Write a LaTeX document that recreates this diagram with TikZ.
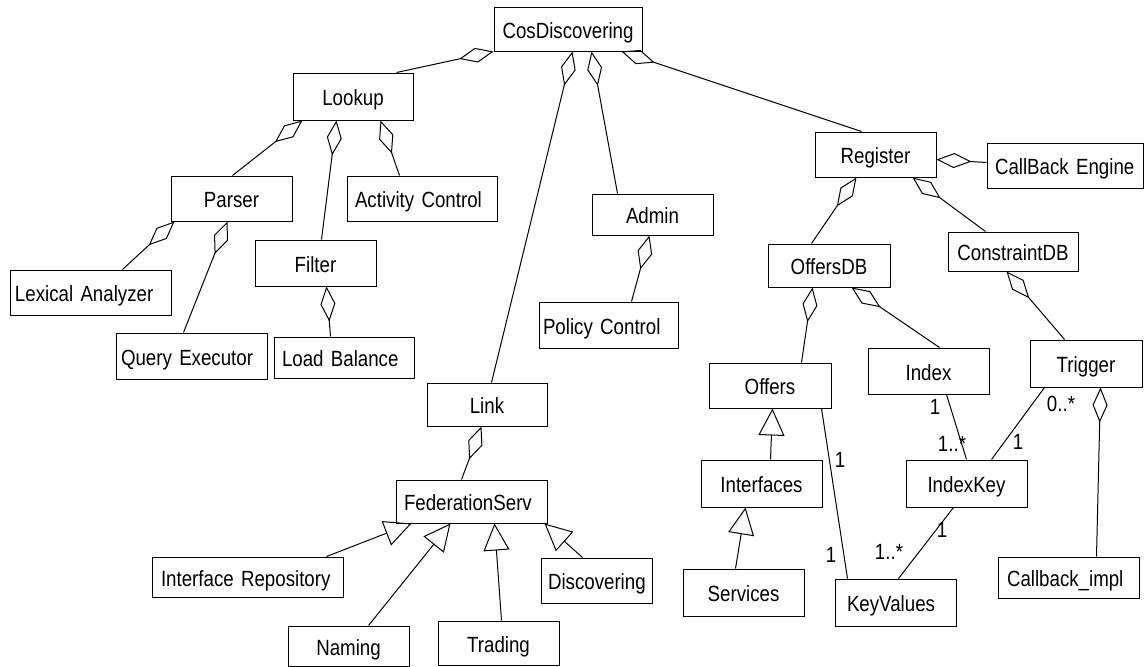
\documentclass[tikz,border=0pt]{standalone}
\usepackage{fontspec}
\setmainfont[FakeStretch=0.85,WordSpace=0.7]{Liberation Sans}
\usetikzlibrary{arrows.meta,calc}
\begin{document}
\begin{tikzpicture}[x=1pt,y=-1pt,line width=1pt,
  font=\fontsize{22}{26}\selectfont,
  box/.style={draw,rectangle,inner ysep=0pt,inner xsep=2pt,text height=22pt,text depth=4pt},
  lt/.style 2 args={text width=#1,inner xsep=#2,align=left},
  agg/.style={{Diamond[open,length=35pt,width=15pt]}-},
  gen/.style={-{Triangle[open,length=27pt,width=26pt]}},
  mult/.style={inner sep=0pt}]
\useasboundingbox (0,0) rectangle (1144,667);
\fill[white] (0,0) rectangle (1144,667);
% boxes
\node[box,minimum width=148pt,minimum height=44pt] (cos) at (568,29) {CosDiscovering};
\node[box,minimum width=120pt,minimum height=47pt] (lookup) at (353,96.5) {Lookup};
\node[box,minimum width=121pt,minimum height=45pt] (parser) at (231.5,198.5) {Parser};
\node[box,minimum width=150pt,minimum height=45pt,lt={134pt}{8pt}] (activity) at (422,198.5) {Activity Control};
\node[box,minimum width=121pt,minimum height=46pt] (filter) at (315.5,263) {Filter};
\node[box,minimum width=161pt,minimum height=45pt,lt={151pt}{5pt}] (lexical) at (90.5,292.5) {Lexical Analyzer};
\node[box,minimum width=151pt,minimum height=46pt,lt={141pt}{5pt}] (query) at (191.5,356) {Query Executor};
\node[box,minimum width=140pt,minimum height=41pt,lt={124pt}{8pt}] (load) at (344,357.5) {Load Balance};
\node[box,minimum width=121pt,minimum height=41pt] (admin) at (652.5,214.5) {Admin};
\node[box,minimum width=139pt,minimum height=46pt,lt={131pt}{4pt}] (policy) at (608.5,325) {Policy Control};
\node[box,minimum width=120pt,minimum height=43pt] (link) at (487,404.5) {Link};
\node[box,minimum width=151pt,minimum height=43pt,lt={135pt}{8pt}] (fed) at (471.5,501.5) {FederationServ};
\node[box,minimum width=191pt,minimum height=40pt,lt={173pt}{9pt}] (irep) at (247.5,577) {Interface Repository};
\node[box,minimum width=121pt,minimum height=40pt] (naming) at (348.5,646) {Naming};
\node[box,minimum width=121pt,minimum height=44pt] (trading) at (498.5,643) {Trading};
\node[box,minimum width=111pt,minimum height=45pt,lt={97pt}{7pt}] (disc) at (596.5,580.5) {Discovering};
\node[box,minimum width=121pt,minimum height=45pt] (register) at (875.5,154.5) {Register};
\node[box,minimum width=156pt,minimum height=45pt,lt={140pt}{8pt}] (callback) at (1065,165.5) {CallBack Engine};
\node[box,minimum width=122pt,minimum height=43pt] (offersdb) at (829,265.5) {OffersDB};
\node[box,minimum width=130pt,minimum height=39pt] (constraint) at (1013,251.5) {ConstraintDB};
\node[box,minimum width=122pt,minimum height=45pt] (offers) at (770,385.5) {Offers};
\node[box,minimum width=121pt,minimum height=46pt] (index) at (928.5,371) {Index};
\node[box,minimum width=112pt,minimum height=47pt] (trigger) at (1086,363.5) {Trigger};
\node[box,minimum width=121pt,minimum height=47pt] (interfaces) at (761.5,483.5) {Interfaces};
\node[box,minimum width=121pt,minimum height=47pt] (indexkey) at (966.5,483.5) {IndexKey};
\node[box,minimum width=121pt,minimum height=47pt] (services) at (743.5,592.5) {Services};
\node[box,minimum width=121pt,minimum height=47pt,lt={97pt}{12pt}] (keyvalues) at (895.5,602.5) {KeyValues};
\node[box,minimum width=141pt,minimum height=41pt,lt={123pt}{9pt}] (cbimpl) at (1068.5,577.5) {Callback\_impl};
% aggregations
\draw[agg] (cos.south west) -- ($(lookup.north west)+(104,0)$);
\draw[agg] ($(cos.south west)+(79,0)$) -- ($(link.north west)+(65,0)$);
\draw[agg] ($(cos.south west)+(98,0)$) -- ($(admin.north west)+(26,0)$);
\draw[agg] ($(cos.south west)+(128,0)$) -- ($(register.north west)+(47,0)$);
\draw[agg] ($(lookup.south west)+(10,0)$) -- ($(parser.north west)+(62,0)$);
\draw[agg] ($(lookup.south west)+(44,0)$) -- ($(filter.north west)+(67,0)$);
\draw[agg] ($(lookup.south west)+(88,0)$) -- ($(activity.north west)+(53,0)$);
\draw[agg] ($(parser.south west)+(4,0)$) -- ($(lexical.north west)+(113,0)$);
\draw[agg] ($(parser.south west)+(57,0)$) -- ($(query.north west)+(68,0)$);
\draw[agg] ($(filter.south west)+(72,0)$) -- ($(load.north west)+(57,0)$);
\draw[agg] ($(admin.south west)+(58,0)$) -- ($(policy.north west)+(93,0)$);
\draw[agg] ($(link.south west)+(55,0)$) -- ($(fed.north west)+(66,0)$);
\draw[agg] ($(register.east)+(0,5)$) -- ($(callback.west)+(0,-3)$);
\draw[agg] ($(register.south west)+(42,0)$) -- ($(offersdb.north west)+(44,0)$);
\draw[agg] ($(register.south west)+(98,0)$) -- ($(constraint.north west)+(38,0)$);
\draw[agg] ($(offersdb.south west)+(45,0)$) -- ($(offers.north west)+(93,0)$);
\draw[agg] ($(offersdb.south west)+(84,0)$) -- ($(index.north west)+(72,0)$);
\draw[agg] ($(constraint.south west)+(59,0)$) -- ($(trigger.north west)+(35,0)$);
\draw[agg] ($(trigger.south west)+(71,0)$) -- ($(cbimpl.north west)+(99,0)$);
% generalizations
\draw[gen] ($(irep.north west)+(175,0)$) -- ($(fed.south west)+(16,0)$);
\draw[gen] ($(naming.north west)+(81,0)$) -- ($(fed.south west)+(55,0)$);
\draw[gen] ($(trading.north west)+(64,0)$) -- ($(fed.south west)+(99,0)$);
\draw[gen] ($(disc.north west)+(42,0)$) -- ($(fed.south west)+(149,0)$);
\draw[gen] ($(interfaces.north west)+(70,0)$) -- ($(offers.south west)+(64,0)$);
\draw[gen] ($(services.north west)+(53,0)$) -- ($(interfaces.south west)+(45,0)$);
% associations
\draw ($(offers.south west)+(113,0)$) -- ($(keyvalues.north west)+(13,0)$);
\draw ($(index.south west)+(79,0)$) -- ($(indexkey.north west)+(61,0)$);
\draw ($(trigger.south west)+(15,0)$) -- ($(indexkey.north west)+(86,0)$);
\draw ($(indexkey.south west)+(48,0)$) -- ($(keyvalues.north west)+(64,0)$);
% multiplicities
\node[mult] (m1) at (840,460) {1};
\node[mult] (m2) at (831,555) {1};
\node[mult] (m3) at (935,407) {1};
\node[mult] (m4) at (952,444) {1..*};
\node[mult] (m5) at (1061,404) {0..*};
\node[mult] (m6) at (1018,442) {1};
\node[mult] (m7) at (942,530) {1};
\node[mult] (m8) at (889,552) {1..*};
\end{tikzpicture}
\end{document}
